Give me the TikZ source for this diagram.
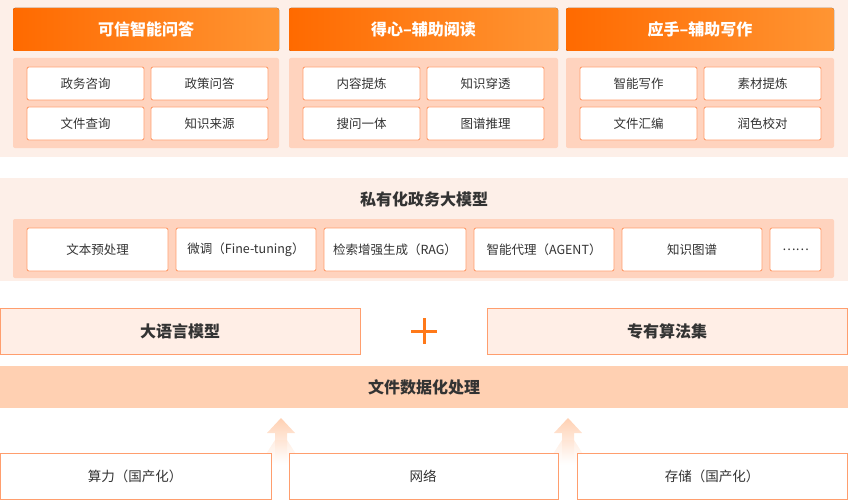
\documentclass[tikz,border=0pt]{standalone}
\usepackage{fontspec}
\setmainfont{Noto Sans CJK SC}
\usetikzlibrary{shadings}
\definecolor{bgp}{HTML}{FDEFE8}
\definecolor{panel}{HTML}{FFD3BE}
\definecolor{bord}{HTML}{FF9E6E}
\definecolor{oA}{HTML}{FF6A00}
\definecolor{oB}{HTML}{FF9533}
\definecolor{band}{HTML}{FFD0B2}
\definecolor{lite}{HTML}{FFEEE6}
\definecolor{txt}{HTML}{333333}
\tikzset{
 hdr/.style={rounded corners=2pt,left color=oA,right color=oB},
 pnl/.style={fill=panel,rounded corners=2pt},
 sb/.style={draw=bord,line width=0.9pt,fill=white,rounded corners=2pt},
 lbl/.style={text=txt,font=\fontsize{12.5}{12.5}\selectfont},
 big/.style={text=txt,font=\fontsize{16}{16}\selectfont\bfseries},
 wt/.style={text=white,font=\fontsize{16}{16}\selectfont\bfseries},
}
\newcommand{\smbox}[6]{\draw[sb] (#1,#2) rectangle (#3,#4); \node[lbl] (#6) at ({(#1+#3)/2},{(#2+#4)/2}) {#5};}
\begin{document}
\begin{tikzpicture}[x=1pt,y=-1pt]
\useasboundingbox (0,0) rectangle (848,500);
\fill[bgp] (0,0) rectangle (848,157);
% headers
\foreach \a/\b/\t [count=\i] in {13/279/可信智能问答,289/558/得心–辅助阅读,566/834/应手–辅助写作}{
 \fill[hdr] (\a,8) rectangle (\b,51);
 \node[wt] (h\i) at ({(\a+\b)/2},29.5) {\t};
 \fill[pnl] (\a,58) rectangle (\b,148);
}
\smbox{27}{67}{144}{100}{政务咨询}{a1}
\smbox{151}{67}{268}{100}{政策问答}{a2}
\smbox{27}{107}{144}{140}{文件查询}{a3}
\smbox{151}{107}{268}{140}{知识来源}{a4}
\smbox{303}{67}{420}{100}{内容提炼}{b1}
\smbox{427}{67}{544}{100}{知识穿透}{b2}
\smbox{303}{107}{420}{140}{搜问一体}{b3}
\smbox{427}{107}{544}{140}{图谱推理}{b4}
\smbox{580}{67}{697}{100}{智能写作}{c1}
\smbox{704}{67}{821}{100}{素材提炼}{c2}
\smbox{580}{107}{697}{140}{文件汇编}{c3}
\smbox{704}{107}{821}{140}{润色校对}{c4}
% section 2
\fill[bgp] (0,178) rectangle (848,281);
\node[big] (m) at (424,199) {私有化政务大模型};
\fill[pnl] (13,219) rectangle (834,278);
\smbox{27}{228}{168}{271}{文本预处理}{d1}
\smbox{176}{228}{316}{271}{微调（Fine-tuning）}{d2}
\smbox{324}{228}{466}{271}{检索增强生成（RAG）}{d3}
\smbox{474}{228}{614}{271}{智能代理（AGENT）}{d4}
\smbox{622}{228}{762}{271}{知识图谱}{d5}
\smbox{770}{228}{821}{271}{……}{d6}
% row 3
\draw[draw=bord,fill=lite,line width=0.9pt] (0.5,308) rectangle (360,354);
\node[big] (l) at (180,331) {大语言模型};
\draw[draw=bord,fill=lite,line width=0.9pt] (487,308) rectangle (847.5,354);
\node[big] (s) at (667,331) {专有算法集};
\draw[oA!90,line width=3pt] (411,331) -- (437,331) (424,318) -- (424,344);
% band
\fill[band] (0,366) rectangle (848,408);
\node[big] (f) at (424,387) {文件数据化处理};
% arrows
\foreach \x in {281,568}{
 \shade[top color=band,bottom color=white] (\x-6,460) -- (\x-6,433) -- (\x-14,433) -- (\x,418) -- (\x+14,433) -- (\x+6,433) -- (\x+6,460) -- cycle;
 \shade[top color=band!60,bottom color=white,opacity=0.6] (\x-6,440) -- (\x-22,465) -- (\x+22,465) -- (\x+6,440) -- cycle;
}
% bottom
\draw[draw=bord,fill=white,line width=0.9pt] (0.5,453) rectangle (271,499);
\node[lbl,font=\fontsize{13.5}{13.5}\selectfont] (g1) at (135,476) {算力（国产化）};
\draw[draw=bord,fill=white,line width=0.9pt] (289,453) rectangle (558,499);
\node[lbl,font=\fontsize{13.5}{13.5}\selectfont] (g2) at (423,476) {网络};
\draw[draw=bord,fill=white,line width=0.9pt] (577,453) rectangle (847.5,499);
\node[lbl,font=\fontsize{13.5}{13.5}\selectfont] (g3) at (712,476) {存储（国产化）};
\end{tikzpicture}
\end{document}
